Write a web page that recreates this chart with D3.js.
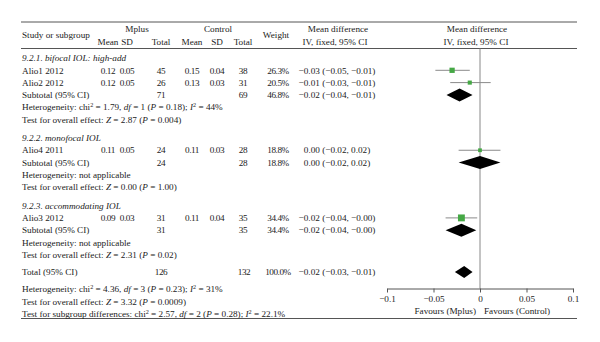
<!DOCTYPE html>
<html><head><meta charset="utf-8">
<script src="https://cdn.jsdelivr.net/npm/d3@7"></script>
<style>
html,body{margin:0;padding:0;background:#fff;}
svg{display:block;}
text{font-family:"Liberation Serif","Times New Roman",serif;font-size:9.2px;fill:#222;}
text.num{letter-spacing:-0.45px;}
</style></head>
<body>
<svg id="chart" width="600" height="342"></svg>
<script>
// ---------- data ----------
const sections = ["9.2.1. bifocal IOL: high-add", "9.2.2. monofocal IOL", "9.2.3. accommodating IOL"];
const studies = ["Alio1 2012", "Alio2 2012", "Alio4 2011", "Alio3 2012"];
const studySection = [0, 0, 1, 2];
const mplusMean = [0.12, 0.12, 0.11, 0.09];
const mplusSD = [0.05, 0.05, 0.05, 0.03];
const mplusN = [45, 26, 24, 31];
const ctrlMean = [0.15, 0.13, 0.11, 0.11];
const ctrlSD = [0.04, 0.03, 0.03, 0.04];
const ctrlN = [38, 31, 28, 35];
const weights = [26.3, 20.5, 18.8, 34.4];
const mdLabels = ["−0.03 (−0.05, −0.01)", "−0.01 (−0.03, −0.01)", "0.00 (−0.02, 0.02)", "−0.02 (−0.04, −0.00)"];
const mdEst = [-0.030, -0.011, 0.000, -0.020];
const ciLow = [-0.048, -0.032, -0.023, -0.037];
const ciHigh = [-0.011, 0.0115, 0.022, -0.003];

const subMplusN = [71, 24, 31];
const subCtrlN = [69, 28, 35];
const subWeight = [46.8, 18.8, 34.4];
const subLabels = ["−0.02 (−0.04, −0.01)", "0.00 (−0.02, 0.02)", "−0.02 (−0.04, −0.00)"];
const subEst = [-0.022, 0.000, -0.020];
const subLow = [-0.036, -0.023, -0.037];
const subHigh = [-0.008, 0.022, -0.004];
const subHet = ["Heterogeneity: chi^2^ = 1.79, *df* = 1 (*P* = 0.18); *I*^2^ = 44%",
                "Heterogeneity: not applicable", "Heterogeneity: not applicable"];
const subTest = ["Test for overall effect: *Z* = 2.87 (*P* = 0.004)",
                 "Test for overall effect: *Z* = 0.00 (*P* = 1.00)",
                 "Test for overall effect: *Z* = 2.31 (*P* = 0.02)"];

const totalMplusN = 126, totalCtrlN = 132, totalWeight = 100.0;
const totalLabel = "−0.02 (−0.03, −0.01)";
const totalEst = -0.017, totalLow = -0.027, totalHigh = -0.008;
const totalNotes = ["Heterogeneity: chi^2^ = 4.36, *df* = 3 (*P* = 0.23); *I*^2^ = 31%",
                    "Test for overall effect: *Z* = 3.32 (*P* = 0.0009)",
                    "Test for subgroup differences: chi^2^ = 2.57, *df* = 2 (*P* = 0.28); *I*^2^ = 22.1%"];

const axisTicks = [-0.1, -0.05, 0, 0.05, 0.1];
const axisTickLabels = ["−0.1", "−0.05", "0", "0.05", "0.1"];
const favours = ["Favours (Mplus)", "Favours (Control)"];
const groupHeaders = ["Mplus", "Control"];
const subHeaders = ["Mean", "SD", "Total"];

// ---------- layout ----------
const svg = d3.select("#chart");
const left = 21, right = 577;
const f2 = d3.format(".2f");
const fw = d3.format(".1f");

const rows = [];
let pos = 0;
sections.forEach((s, si) => {
  if (si > 0) pos += 1.5;
  rows.push({type: "section", text: s, pos: pos}); pos += 1;
  studies.forEach((st, i) => {
    if (studySection[i] === si) { rows.push({type: "study", i: i, pos: pos}); pos += 1; }
  });
  rows.push({type: "subtotal", i: si, pos: pos}); pos += 1;
  rows.push({type: "note", text: subHet[si], pos: pos}); pos += 1;
  rows.push({type: "note", text: subTest[si], pos: pos});
});
pos += 1.4;
rows.push({type: "total", pos: pos}); pos += 1.4;
totalNotes.forEach(t => { rows.push({type: "note", text: t, pos: pos}); pos += 1; });

const y = d3.scaleLinear().domain([0, 1]).range([58, 58 + 12.3]);
const x = d3.scaleLinear().domain([-0.1, 0.1]).range([387, 573]);
const sq = d3.scaleLinear().domain([0, 35]).range([0, 7]);

const col = {label: 22, mMean: 108, mSD: 127, mN: 161, cMean: 192, cSD: 217, cN: 243, weight: 278, md: 337};

function rich(sel, str) {
  const parts = str.split(/(\*[^*]+\*|\^[^^]+\^)/).filter(p => p.length);
  let pendingDown = 0;
  parts.forEach(p => {
    let t;
    if (p.startsWith("*")) {
      t = sel.append("tspan").attr("font-style", "italic").text(p.slice(1, -1));
      if (pendingDown) { t.attr("dy", pendingDown); pendingDown = 0; }
    } else if (p.startsWith("^")) {
      t = sel.append("tspan").attr("font-size", "6.2px").attr("dy", -3.3).text(p.slice(1, -1));
      pendingDown = 3.3;
    } else {
      t = sel.append("tspan").text(p);
      if (pendingDown) { t.attr("dy", pendingDown); pendingDown = 0; }
    }
  });
}

function txt(xp, yp, s, anchor, cls) {
  const t = svg.append("text").attr("x", xp).attr("y", yp).attr("dy", "0.35em")
    .attr("text-anchor", anchor || "start").text(s);
  if (cls) t.attr("class", cls);
  return t;
}

// ---------- rules ----------
const ruleColor = "#555";
[22, 48.5, 318.5].forEach(yy => {
  svg.append("line").attr("x1", left).attr("x2", right).attr("y1", yy).attr("y2", yy)
    .attr("stroke", ruleColor).attr("stroke-width", 1);
});

// ---------- headers ----------
txt(col.label, 35, "Study or subgroup");
txt(137, 29, groupHeaders[0], "middle");
txt(218, 29, groupHeaders[1], "middle");
[[col.mMean, col.mSD, col.mN], [col.cMean, col.cSD, col.cN]].forEach(g => {
  g.forEach((cx, k) => txt(cx, 41.5, subHeaders[k], "middle"));
});
txt(276, 35, "Weight", "middle");
txt(col.md + 1, 29, "Mean difference", "middle");
txt(col.md - 2, 41.5, "IV, fixed, 95% CI", "middle");
txt(477, 29, "Mean difference", "middle");
txt(476, 41.5, "IV, fixed, 95% CI", "middle");

// ---------- zero line ----------
svg.append("line").attr("x1", x(0)).attr("x2", x(0)).attr("y1", 48.5).attr("y2", 288.5)
  .attr("stroke", "#888").attr("stroke-width", 1);

function diamond(est, lo, hi, yc, h) {
  return `M${x(lo)},${yc}L${x(est)},${yc - h / 2}L${x(hi)},${yc}L${x(est)},${yc + h / 2}Z`;
}

rows.forEach(r => {
  const yc = y(r.pos);
  if (r.type === "section") {
    txt(col.label, yc, r.text).attr("font-style", "italic");
  } else if (r.type === "study") {
    const i = r.i;
    txt(col.label, yc, studies[i]);
    txt(col.mMean, yc, f2(mplusMean[i]), "middle", "num");
    txt(col.mSD, yc, f2(mplusSD[i]), "middle", "num");
    txt(col.mN, yc, mplusN[i], "middle", "num");
    txt(col.cMean, yc, f2(ctrlMean[i]), "middle", "num");
    txt(col.cSD, yc, f2(ctrlSD[i]), "middle", "num");
    txt(col.cN, yc, ctrlN[i], "middle", "num");
    txt(col.weight, yc, fw(weights[i]) + "%", "middle", "num");
    txt(col.md, yc, mdLabels[i], "middle");
    svg.append("line").attr("x1", x(ciLow[i])).attr("x2", x(ciHigh[i]))
      .attr("y1", yc).attr("y2", yc).attr("stroke", "#8a8a8a").attr("stroke-width", 1);
    const s = sq(weights[i]);
    svg.append("rect").attr("x", x(mdEst[i]) - s / 2).attr("y", yc - s / 2)
      .attr("width", s).attr("height", s).attr("fill", "#45a845");
  } else if (r.type === "subtotal") {
    const i = r.i;
    txt(col.label, yc, "Subtotal (95% CI)");
    txt(col.mN, yc, subMplusN[i], "middle", "num");
    txt(col.cN, yc, subCtrlN[i], "middle", "num");
    txt(col.weight, yc, fw(subWeight[i]) + "%", "middle", "num");
    txt(col.md, yc, subLabels[i], "middle");
    svg.append("path").attr("d", diamond(subEst[i], subLow[i], subHigh[i], yc, 13)).attr("fill", "#000");
  } else if (r.type === "note") {
    const t = svg.append("text").attr("x", col.label).attr("y", yc).attr("dy", "0.35em");
    rich(t, r.text);
  } else if (r.type === "total") {
    txt(col.label, yc, "Total (95% CI)");
    txt(col.mN, yc, totalMplusN, "middle", "num");
    txt(col.cN + 1, yc, totalCtrlN, "middle", "num");
    txt(col.weight, yc, fw(totalWeight) + "%", "middle", "num");
    txt(col.md, yc, totalLabel, "middle");
    svg.append("path").attr("d", diamond(totalEst, totalLow, totalHigh, yc, 12)).attr("fill", "#000");
  }
});

// ---------- axis ----------
const axis = d3.axisBottom(x).tickValues(axisTicks)
  .tickFormat((d, k) => axisTickLabels[k]).tickSize(4).tickSizeOuter(0).tickPadding(3);
const ag = svg.append("g").attr("transform", "translate(0,288.5)").call(axis);
ag.select(".domain").attr("stroke", ruleColor);
ag.selectAll(".tick line").attr("stroke", ruleColor);
ag.selectAll(".tick text").style("font-family", '"Liberation Serif","Times New Roman",serif')
  .style("font-size", "9.2px").attr("fill", "#222");

txt(x(0) - 4, 310.5, favours[0], "end");
txt(x(0) + 4, 310.5, favours[1], "start");
</script>
</body></html>
